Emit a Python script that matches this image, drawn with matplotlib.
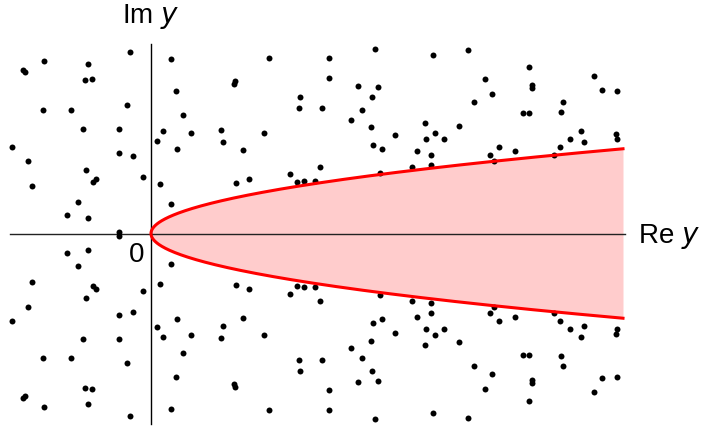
import numpy as np
import matplotlib
matplotlib.use("Agg")
import matplotlib.pyplot as plt

# scattered points in the upper half plane (picture is mirrored about Re axis)
px = [-0.21, -1.07, -1.28, -1.26, -0.63, -0.66, -0.59, -1.08, -0.80, -0.24,
      -0.68, -0.32, -1.39, -1.23, -1.19, -0.32, -0.18, -0.65, -0.58, -0.55,
      -0.08, -0.73, -0.84, -0.63, -0.32, 0.06, 0.09, 0.20, 1.18, 0.84,
      0.83, 0.25, 1.49, 1.48, 0.32, 0.12, 0.40, 0.70, 1.13, 0.72,
      0.26, 0.92, 0.85, 0.98, 1.39, 1.46, 1.53, 1.64, 0.20, 2.24,
      3.17, 1.78, 2.82, 1.78, 2.07, 2.27, 2.21, 1.71, 2.11, 2.00,
      2.20, 2.74, 3.08, 2.84, 2.44, 2.75, 2.93, 2.22, 2.31, 2.66,
      2.80, 1.69, 2.29, 2.61, 2.80, 3.78, 3.34, 3.81, 3.81, 3.41,
      3.23, 4.43, 4.51, 4.66, 4.12, 4.10, 3.72, 3.78, 4.30, 4.65,
      4.66, 4.19, 4.33, 3.48, 3.64, 3.39, 3.43, 4.09, 4.03]
py = [1.82, 1.73, 1.64, 1.62, 1.70, 1.54, 1.55, 1.24, 1.24, 1.29,
      1.05, 1.05, 0.87, 0.73, 0.48, 0.81, 0.78, 0.64, 0.52, 0.55,
      0.57, 0.32, 0.19, 0.16, 0.02, 0.93, 0.50, 1.75, 1.76, 1.53,
      1.50, 1.43, 1.37, 1.26, 1.19, 1.03, 1.01, 1.04, 1.01, 0.92,
      0.85, 0.84, 0.51, 0.55, 0.60, 0.52, 0.53, 0.53, 0.30, 1.85,
      1.84, 1.76, 1.79, 1.56, 1.48, 1.47, 1.37, 1.26, 1.24, 1.14,
      1.07, 1.11, 1.08, 1.01, 0.99, 0.95, 0.95, 0.89, 0.85, 0.83,
      0.79, 0.67, 0.61, 0.67, 0.69, 1.67, 1.55, 1.49, 1.46, 1.40,
      1.32, 1.58, 1.44, 1.43, 1.32, 1.22, 1.21, 1.21, 1.03, 1.00,
      0.95, 0.95, 0.92, 0.87, 0.83, 0.79, 0.73, 0.87, 0.79]

coef = 0.39     # boundary Im y = +-coef*sqrt(Re y)
xmax = 4.72

plt.rcParams['font.family'] = ['Liberation Sans', 'DejaVu Sans']

fig = plt.figure(figsize=(7.01, 4.27), dpi=100)
ax = fig.add_axes([0, 0, 1, 1])
ax.set_xlim(-1.51, 5.50)
ax.set_ylim(-1.925, 2.345)
ax.axis('off')

# axes
ax.plot([-1.41, 4.74], [0, 0], color='#222222', lw=1.0, zorder=1)
ax.plot([0, 0], [-1.9, 1.9], color='black', lw=1.0, zorder=1)

# parabola region
t = np.linspace(0, xmax, 400)
ax.fill_between(t, -coef * np.sqrt(t), coef * np.sqrt(t), color='#ffcccc', lw=0, zorder=0)

xs = np.array(px)
ys = np.array(py)
ax.plot(np.concatenate([xs, xs]), np.concatenate([ys, -ys]), 'o', color='black',
        ms=4.3, mew=0, zorder=2)

yy = np.linspace(-coef * np.sqrt(xmax), coef * np.sqrt(xmax), 600)
ax.plot((yy / coef) ** 2, yy, color='red', lw=2.2, zorder=3)

ax.text(0.0, 2.18, 'Im $\\it{y}$', fontsize=20, ha='center', va='center')
ax.text(4.87, -0.09, 'Re $\\it{y}$', fontsize=20, ha='left', va='baseline')
ax.text(-0.147, -0.28, '0', fontsize=20, ha='center', va='baseline')

fig.savefig('out.png', dpi=100)
